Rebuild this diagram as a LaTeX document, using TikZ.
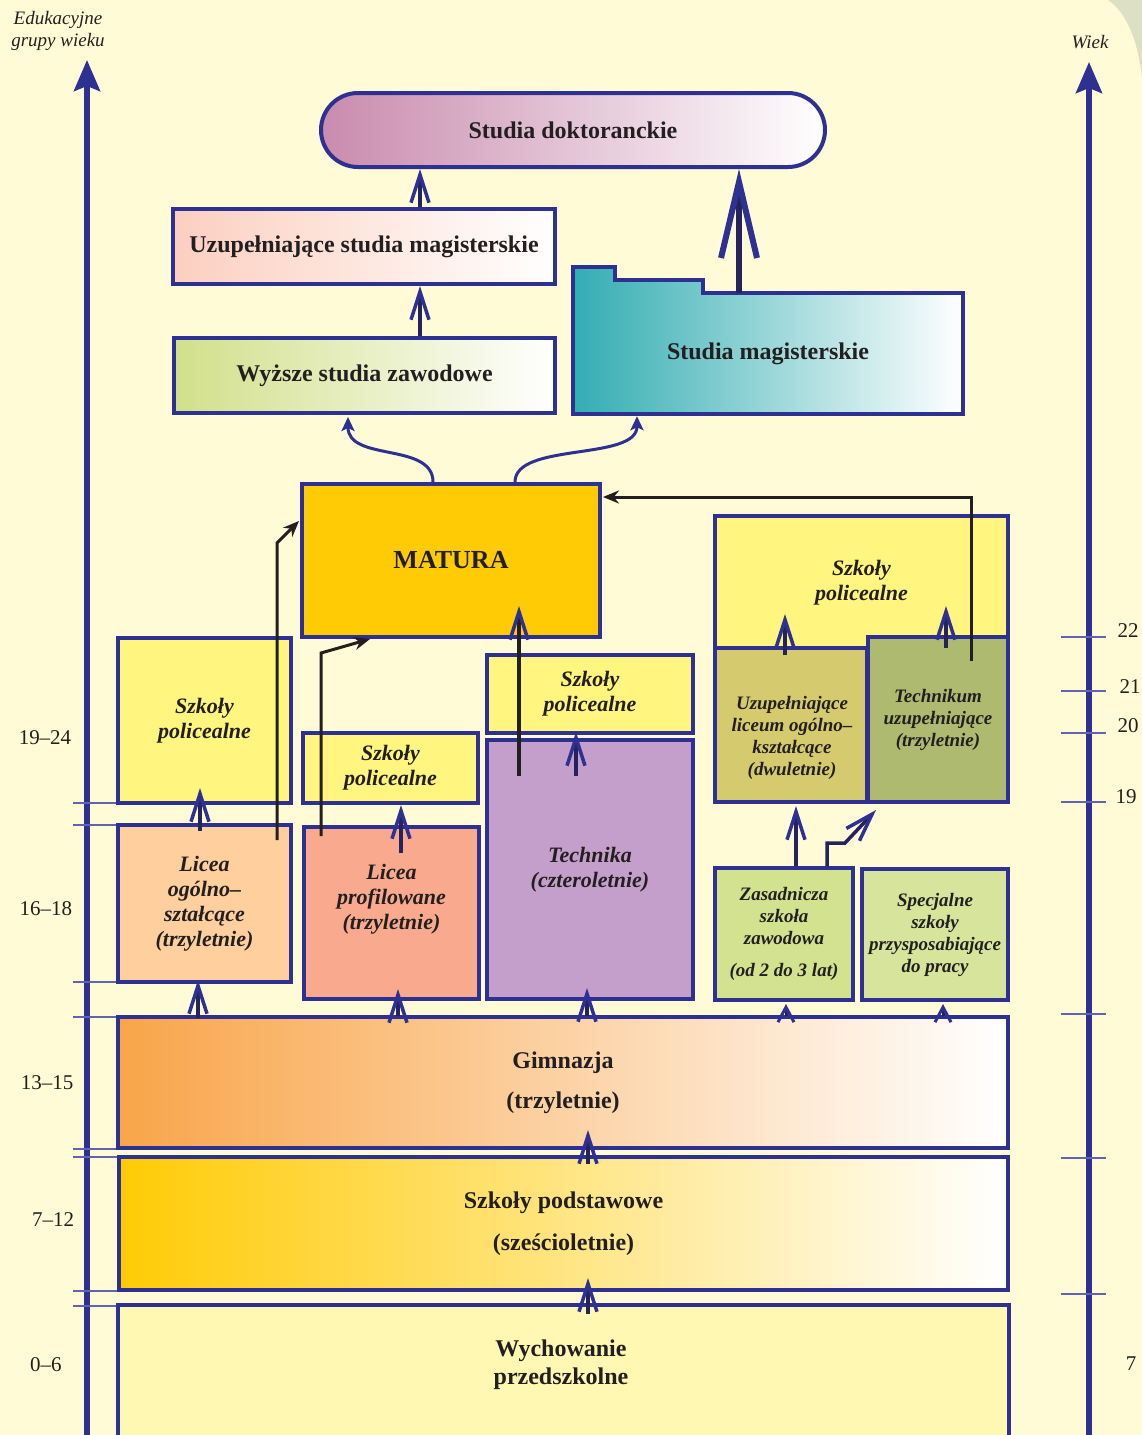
\documentclass[tikz,border=0pt]{standalone}
\usepackage{fontspec}
\setmainfont{Liberation Serif}
\usepackage{tikz}
\usetikzlibrary{arrows.meta}
\definecolor{bl}{HTML}{2E3192}
\definecolor{ink}{HTML}{231F20}
\definecolor{shaft}{HTML}{25235E}
\definecolor{cream}{HTML}{FFFBD7}
\definecolor{corner}{HTML}{DDE0C4}
\definecolor{polc}{HTML}{FFF57F}
\definecolor{peach}{HTML}{FFCF9E}
\definecolor{salmon}{HTML}{F9AA8E}
\definecolor{lav}{HTML}{C59FCC}
\definecolor{olivey}{HTML}{D5CB6E}
\definecolor{oliveg}{HTML}{ADBA6F}
\definecolor{lgreen}{HTML}{D3E28F}
\definecolor{lgreenb}{HTML}{D6E49C}
\definecolor{gold}{HTML}{FFCB05}
\definecolor{paley}{HTML}{FFF8B2}
\definecolor{orng}{HTML}{F9A54A}
\definecolor{mauve}{HTML}{C98BAE}
\definecolor{rose}{HTML}{FCCFC0}
\definecolor{lime}{HTML}{D1E08A}
\definecolor{tealx}{HTML}{33ADB2}
\tikzset{
  bx/.style={draw=bl,line width=4pt,align=center,inner sep=2pt,text=ink},
  sz/.style 2 args={minimum width=#1pt,minimum height=#2pt},
  hd/.style={font=\bfseries\fontsize{24}{28}\selectfont},
  itl/.style={font=\bfseries\itshape\fontsize{22}{25}\selectfont},
  its/.style={font=\bfseries\itshape\fontsize{19}{22}\selectfont},
  txt/.style={align=center,text=ink},
  upar/.style={draw=shaft,line width=3.5pt,-{Straight Barb[length=28pt,width=18pt,line width=3.5pt,color=bl]}},
  upsm/.style={draw=shaft,line width=3pt,-{Straight Barb[length=15pt,width=16pt,line width=3pt,color=bl]}},
  bigup/.style={draw=shaft,line width=5.5pt,-{Straight Barb[length=76pt,width=36pt,line width=6pt,color=bl]}},
  blk/.style={draw=ink,line width=3pt,-{Stealth[length=16pt,width=13pt]}},
  cv/.style={draw=bl,line width=3pt,-{Stealth[length=14pt,width=13pt,inset=3pt]}},
  axisline/.style={draw=bl,line width=5.5pt,-{Stealth[length=31pt,width=26pt,inset=5pt]}},
  tk/.style={draw=bl!75,line width=1.3pt},
  num/.style={text=ink,font=\fontsize{21}{24}\selectfont}
}
\begin{document}
\begin{tikzpicture}[x=1pt,y=-1pt]
\useasboundingbox (0,0) rectangle (1142,1435);
\fill[cream] (0,0) rectangle (1142,1435);
\fill[corner] (1108,0) .. controls (1126,12) and (1138,40) .. (1142,78) -- (1142,0) -- cycle;

\coordinate (La) at (87,1440); \coordinate (Lt) at (87,60);
\coordinate (Ra) at (1089,1440); \coordinate (Rt) at (1089,62);
\draw[axisline] (La) -- (Lt);
\draw[axisline] (Ra) -- (Rt);
\foreach \y in {803,825,982,1017,1149,1157,1291,1306} \draw[tk] (73,\y) -- (118,\y);
\foreach \y in {637,691,733,802,1014,1158,1294} \draw[tk] (1061,\y) -- (1106,\y);

\node[txt,font=\itshape\fontsize{19}{22}\selectfont] (egw) at (58,31) {Edukacyjne\\grupy wieku};
\node[txt,font=\itshape\fontsize{19}{22}\selectfont] (wiek) at (1090,42) {Wiek};
\foreach \t/\x/\y [count=\i] in {19–24/45/738,16–18/46/909,13–15/47/1083,7–12/53/1220,0–6/46/1365}
  \node[num] (gl\i) at (\x,\y) {\t};
\foreach \t/\x/\y [count=\i] in {22/1128/631,21/1130/687,20/1128/726,19/1126/797,7/1131/1364}
  \node[num] (gr\i) at (\x,\y) {\t};

\node[bx,sz={504}{74},rounded corners=37pt,left color=mauve,right color=white,hd] (dok) at (573,130) {Studia doktoranckie};
\node[bx,sz={382}{75},left color=rose,right color=white,hd] (usm) at (364,246.5) {Uzupełniające studia magisterskie};
\node[bx,sz={381}{75},left color=lime,right color=white,hd] (wsz) at (364.5,375.5) {Wyższe studia zawodowe};
\shadedraw[left color=tealx,right color=white,draw=bl,line width=4pt] (573,267) -- (615,267) -- (615,280) -- (703,280) -- (703,293) -- (963,293) -- (963,414) -- (573,414) -- cycle;
\node[txt,sz={390}{121},hd] (smag) at (768,353.5) {Studia magisterskie};
\node[bx,sz={298}{153},fill=gold,font=\bfseries\fontsize{26}{30}\selectfont] (mat) at (451,560.5) {MATURA};

\node[bx,sz={173}{165},fill=polc,itl] (pol1) at (204.5,720.5) {Szkoły\\policealne};
\node[bx,sz={173}{157},fill=peach,itl] (lo) at (204.5,903.5) {Licea\\ogólno–\\ształcące\\(trzyletnie)};
\node[bx,sz={175}{70},fill=polc,itl] (pol2) at (390.5,768) {Szkoły\\policealne};
\node[bx,sz={175}{172},fill=salmon] (lp) at (391.5,913) {};
\node[txt,itl] (lpt) at (391.5,899) {Licea\\profilowane\\(trzyletnie)};
\node[bx,sz={206}{78},fill=polc,itl] (pol3) at (590,694) {Szkoły\\policealne};
\node[bx,sz={206}{259},fill=lav,itl] (tech) at (590,869.5) {Technika\\(czteroletnie)};
\node[bx,sz={293}{134},fill=polc,itl] (pol4) at (861.5,583) {Szkoły\\policealne};
\node[bx,sz={152}{154},fill=olivey] (ulo) at (791,725) {};
\node[txt,its] (ulot) at (792,738) {Uzupełniające\\liceum ogólno–\\kształcące\\(dwuletnie)};
\node[bx,sz={140}{165},fill=oliveg,its] (tu) at (938,719.5) {Technikum\\uzupełniające\\(trzyletnie)};
\node[bx,sz={138}{132},fill=lgreen,its] (zsz) at (784,934) {Zasadnicza\\szkoła\\zawodowa\\[10pt](od 2 do 3 lat)};
\node[bx,sz={146}{131},fill=lgreenb,its] (spec) at (935,934.5) {Specjalne\\szkoły\\przysposabiające\\do pracy};
\node[bx,sz={890}{131},left color=orng,right color=white,hd] (gim) at (563,1082.5) {Gimnazja\\[12pt](trzyletnie)};
\node[bx,sz={889}{133},left color=gold,right color=white,hd] (sp) at (563.5,1223.5) {Szkoły podstawowe\\[14pt](sześcioletnie)};
\node[bx,sz={891}{155},fill=paley] (wych) at (563.5,1382.5) {};
\node[txt,hd] (wycht) at (561,1365) {Wychowanie\\przedszkolne};

\draw[upar] ([xshift=56]usm.north) -- ([xshift=-153]dok.south);
\draw[upar] ([xshift=55.5]wsz.north) -- ([xshift=56]usm.south);
\draw[bigup] ([xshift=-29]smag.north) -- ([xshift=166]dok.south);
\draw[cv] ([xshift=-18]mat.north) .. controls +(0,-40) and +(0,45) .. ([xshift=-16.5,yshift=-2]wsz.south);
\draw[cv] ([xshift=64]mat.north) .. controls +(0,-40) and +(0,45) .. ([xshift=-131,yshift=-2]smag.south);

\draw[blk] ([xshift=33,yshift=-26]tu.north) |- ([xshift=1,yshift=63.5]mat.east);
\draw[blk] ([xshift=72.5,yshift=-17]lo.north) -- ++(0,-297) -- ([xshift=-1,yshift=39.5]mat.west);
\draw[blk] ([xshift=-70.5,yshift=-11]lp.north) -- ++(0,-183) -- ([xshift=-81]mat.south);
\draw[upar,draw=ink] ([xshift=-71,yshift=-38]tech.north) -- ([xshift=68,yshift=33]mat.south);

\draw[upar] ([xshift=-4.5,yshift=-8]lo.north) -- ([xshift=-4.5,yshift=17]pol1.south);
\draw[upar] ([xshift=-365,yshift=-3]gim.north) -- ([xshift=-6.5,yshift=4]lo.south);
\draw[upar] ([xshift=9.5,yshift=-28]lp.north) -- ([xshift=10.5]pol2.south);
\draw[upar] ([xshift=-165,yshift=-1]gim.north) -- ([xshift=6.5,yshift=12]lp.south);
\draw[upar] ([xshift=-14,yshift=-38]tech.north) -- ([xshift=-14,yshift=3]pol3.south);
\draw[upar] ([xshift=24,yshift=-1]gim.north) -- ([xshift=-3,yshift=13]tech.south);
\draw[upar] ([xshift=-6,yshift=-9]ulo.north) -- ([xshift=-76.5,yshift=38]pol4.south);
\draw[upar] ([xshift=8,yshift=-13]tu.north) -- ([xshift=84.5,yshift=46]pol4.south);
\draw[upar] ([xshift=12]zsz.north) -- ([xshift=5,yshift=-2]ulo.south);
\draw[upar] ([xshift=43]zsz.north) -- ++(0,-23) -- ++(18,0) -- ([xshift=-62,yshift=-6]tu.south);
\draw[upsm] ([xshift=223,yshift=-1]gim.north) -- ([xshift=2,yshift=-2]zsz.south);
\draw[upsm] ([xshift=380,yshift=-1]gim.north) -- ([xshift=8,yshift=-2]spec.south);
\draw[upar] ([xshift=24.5,yshift=-9]sp.north) -- ([xshift=25,yshift=20]gim.south);
\draw[upar] ([xshift=24.5,yshift=-11]wych.north) -- ([xshift=24.5,yshift=14]sp.south);
\end{tikzpicture}
\end{document}
